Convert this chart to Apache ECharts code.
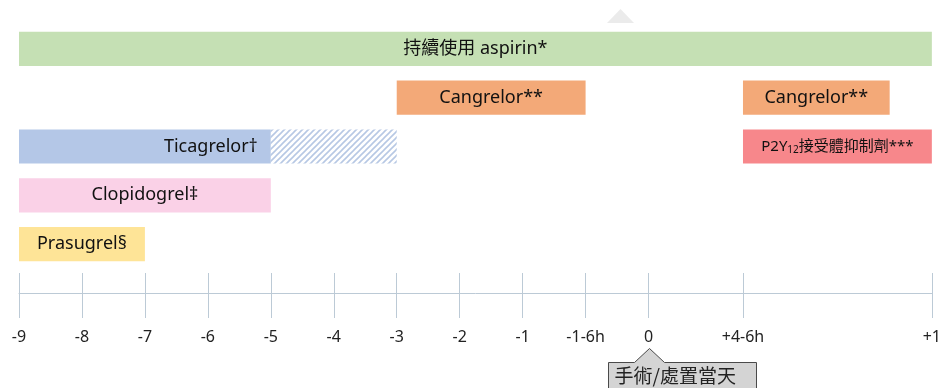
<!DOCTYPE html>
<html>
<head>
<meta charset="utf-8">
<script src="https://cdn.jsdelivr.net/npm/echarts@6/dist/echarts.min.js"></script>
<style>
  html, body { margin: 0; padding: 0; background: #ffffff; }
  #chart { width: 944px; height: 388px; }
</style>
</head>
<body>
<div id="chart"></div>
<script>
// Timeline positions (one unit = one day before surgery; 11.5 and 14.5 are the post-op marks)
const tickPositions = [0, 1, 2, 3, 4, 5, 6, 7, 8, 9, 10, 11.5, 14.5];
const tickLabels = ['-9', '-8', '-7', '-6', '-5', '-4', '-3', '-2', '-1', '-1-6h', '0', '+4-6h', '+1'];
const axisMax = 14.5;

// Drug bars: label, start, end, row (1 = top)
const barLabels = ['持續使用 aspirin*', 'Cangrelor**', 'Cangrelor**', 'Ticagrelor†', '', 'P2Y{s|12}接受體抑制劑***', 'Clopidogrel‡', 'Prasugrel§'];
const barStarts = [0, 6, 11.5, 0, 4, 11.5, 0, 0];
const barEnds   = [14.5, 9, 13.83, 4, 6, 14.5, 4, 2];
const barRows   = [1, 2, 2, 3, 3, 3, 4, 5];
const barColors = ['#c5e0b4', '#f3a978', '#f3a978', '#b4c7e7', 'hatch', '#f7878b', '#fad1e7', '#fee497'];
const barAlign  = ['center', 'center', 'center', 'right', 'center', 'center', 'center', 'center'];

// Surgery-day callout
const calloutPos = 10;
const calloutText = '手術/處置當天';

// Half-unit categories so the visible ticks can sit at 11.5 and 14.5
const slots = [];
for (let i = 0; i <= axisMax * 2; i++) {
  const v = i / 2;
  const k = tickPositions.indexOf(v);
  slots.push(k >= 0 ? tickLabels[k] : '');
}

// Diagonal hatch pattern for the tapering Ticagrelor segment
function makeHatch() {
  const c = document.createElement('canvas');
  const s = 6;
  c.width = s; c.height = s;
  const g = c.getContext('2d');
  g.fillStyle = '#ffffff';
  g.fillRect(0, 0, s, s);
  g.strokeStyle = '#b7c8e4';
  g.lineWidth = 1.6;
  g.beginPath();
  g.moveTo(-1, s + 1); g.lineTo(s + 1, -1);
  g.moveTo(-1, 1); g.lineTo(1, -1);
  g.moveTo(s - 1, s + 1); g.lineTo(s + 1, s - 1);
  g.stroke();
  return { image: c, repeat: 'repeat' };
}
const hatchFill = makeHatch();

const barData = barLabels.map((t, i) => [barStarts[i], barEnds[i], barRows[i], i]);

const chart = echarts.init(document.getElementById('chart'), null, { renderer: 'canvas' });
const latinFont = '"Noto Sans", "Noto Sans CJK TC", sans-serif';

const tickColor = '#bccad6';
const gridTop = 0, gridBottom = 95, chartH = 388;
const gridH = chartH - gridTop - gridBottom;

chart.setOption({
  backgroundColor: '#ffffff',
  animation: false,
  graphic: [{
    type: 'polygon',
    shape: { points: [[607, 23], [620.5, 9], [634, 23]] },
    style: { fill: '#ebebeb' },
    silent: true
  }],
  grid: { left: 19, right: 11.5, top: gridTop, bottom: gridBottom },
  xAxis: [
    {
      // upper half of the timeline ticks, shifted down onto the baseline
      type: 'category', data: slots, boundaryGap: false, position: 'top', offset: -gridH,
      axisLine: { show: true, lineStyle: { color: tickColor, width: 1 } },
      axisTick: { show: true, inside: false, length: 20, interval: (i, v) => v !== '', lineStyle: { color: tickColor } },
      axisLabel: { show: false },
      splitLine: { show: false }
    },
    {
      type: 'category', data: slots, boundaryGap: false, position: 'bottom',
      axisLine: { show: false },
      axisTick: { show: true, inside: false, length: 25, interval: (i, v) => v !== '', lineStyle: { color: tickColor } },
      axisLabel: {
        show: true, interval: (i, v) => v !== '', margin: 36,
        color: '#222222', fontSize: 16, fontFamily: latinFont
      },
      splitLine: { show: false }
    },
    { type: 'value', min: 0, max: axisMax, show: false }
  ],
  yAxis: { type: 'value', min: 0, max: 6, inverse: true, show: false },
  series: [
    {
      type: 'custom',
      xAxisIndex: 2,
      data: barData,
      renderItem: function (params, api) {
        const i = api.value(3);
        const p0 = api.coord([api.value(0), api.value(2)]);
        const p1 = api.coord([api.value(1), api.value(2)]);
        const h = api.size([0, 0.7])[1];
        const fill = barColors[i] === 'hatch' ? hatchFill : barColors[i];
        const el = {
          type: 'rect',
          shape: { x: p0[0], y: p0[1] - h / 2, width: p1[0] - p0[0], height: h },
          style: { fill: fill }
        };
        if (barLabels[i]) {
          el.textContent = {
            style: {
              text: barLabels[i],
              fill: '#111111',
              fontSize: i === 0 ? 18 : (i === 5 ? 15 : 18),
              fontFamily: latinFont,
              rich: { s: { fontSize: 10, fontFamily: latinFont, fill: '#111111', verticalAlign: 'bottom', padding: [8, 0, 0, 0] } }
            }
          };
          el.textConfig = barAlign[i] === 'right'
            ? { position: 'insideRight', distance: 13 }
            : { position: 'inside' };
        }
        return el;
      }
    },
    {
      type: 'custom',
      xAxisIndex: 2,
      data: [[calloutPos, 6]],
      clip: false,
      renderItem: function (params, api) {
        const p = api.coord([api.value(0), api.value(1)]);
        const x = Math.round(p[0]) + 0.5;
        const top = 362.5, apex = 348.5, bottom = 392;
        return {
          type: 'group',
          children: [
            {
              type: 'polygon',
              shape: { points: [[x, apex], [x + 15, top], [x + 107, top], [x + 107, bottom], [x - 41, bottom], [x - 41, top], [x - 15, top]] },
              style: { fill: '#d4d4d4', stroke: '#4a4a4a', lineWidth: 1 }
            },
            {
              type: 'text',
              style: {
                text: calloutText, x: x - 35, y: 376, verticalAlign: 'middle', align: 'left',
                fill: '#222222', fontSize: 19, fontFamily: '"Noto Sans CJK TC", sans-serif'
              }
            }
          ]
        };
      }
    }
  ]
});
</script>
</body>
</html>
